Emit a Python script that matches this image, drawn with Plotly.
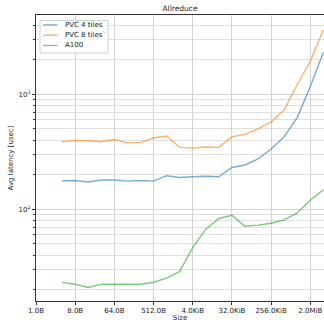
import math
import plotly.graph_objects as go

sizes = [2 ** k for k in range(2, 23)]  # 4 B .. 4 MiB
pvc4 = [177, 178, 173, 180, 180, 176, 178, 176, 196, 189, 192, 194, 192,
        231, 243, 274, 335, 428, 628, 1170, 2330]
pvc8 = [387, 398, 395, 387, 405, 379, 382, 417, 434, 346, 341, 348, 346,
        428, 449, 501, 576, 731, 1220, 1940, 3650]
a100 = [23.1, 22.3, 20.9, 22.3, 22.3, 22.3, 22.3, 23.2, 25.2, 28.8, 46.4,
        67.2, 83.2, 88.7, 71.3, 72.8, 75.7, 81, 93, 120, 148]

x_tickvals = [1, 8, 64, 512, 4096, 32768, 262144, 2097152]
x_ticktext = ["1.0B", "8.0B", "64.0B", "512.0B", "4.0KiB", "32.0KiB", "256.0KiB", "2.0MiB"]

y_tickvals = [100, 1000]
y_ticktext = ["10<sup>2</sup>", "10<sup>3</sup>"]
y_minorvals = [k * d for d in (10, 100, 1000) for k in range(2, 10)]

series = [
    ("PVC 4 tiles", pvc4, "rgba(31,119,180,0.6)"),
    ("PVC 8 tiles`", pvc8, "rgba(255,127,14,0.6)"),
    ("A100", a100, "rgba(44,160,44,0.6)"),
]

fig = go.Figure()
for name, vals, col in series:
    fig.add_trace(go.Scatter(x=sizes, y=vals, mode="lines", name=name,
                             line=dict(color=col, width=1.4), showlegend=False))

font = dict(family="DejaVu Sans", size=7, color="#222")

# manual compact legend (matplotlib style)
L, T, W, H = 36, 15, 288, 288
def px(x):
    return (x - L) / W
def py(y):
    return (T + H - y) / H

shapes = [dict(type="rect", xref="paper", yref="paper",
               x0=px(40), x1=px(108), y0=py(53.3), y1=py(20.5),
               fillcolor="rgba(255,255,255,0.8)", line=dict(color="#d0d0d0", width=1),
               layer="above")]
annotations = []
rows = [25, 35.3, 45.7]
for (name, vals, col), ry in zip(series, rows):
    shapes.append(dict(type="line", xref="paper", yref="paper",
                       x0=px(43), x1=px(57.5), y0=py(ry), y1=py(ry),
                       line=dict(color=col, width=1.4), layer="above"))
    annotations.append(dict(text=name, xref="paper", yref="paper",
                            x=px(63), y=py(ry), xanchor="left", yanchor="middle",
                            showarrow=False, font=font))

fig.update_layout(
    width=324, height=322,
    margin=dict(l=36, r=0, t=15, b=19),
    paper_bgcolor="white", plot_bgcolor="white",
    font=font,
    title=dict(text="Allreduce", x=0.5, xref="paper", xanchor="center",
               y=1, yref="container", yanchor="top", pad=dict(t=6),
               font=dict(family="DejaVu Sans", size=7.5, color="#222")),
    shapes=shapes,
    annotations=annotations,
    showlegend=False,
)
fig.update_xaxes(type="log", range=[0, 22.05 * math.log10(2)],
                 tickvals=x_tickvals, ticktext=x_ticktext,
                 showgrid=True, gridcolor="#d4d4d4", gridwidth=1,
                 showline=True, linecolor="#333", linewidth=1, mirror=True,
                 ticks="outside", ticklen=3, tickcolor="#333",
                 title=dict(text="Size", standoff=2, font=font),
                 zeroline=False)
fig.update_yaxes(type="log", range=[1.202, 3.691],
                 tickvals=y_tickvals, ticktext=y_ticktext,
                 showgrid=True, gridcolor="#d4d4d4", gridwidth=1,
                 showline=True, linecolor="#333", linewidth=1,
                 ticks="outside", ticklen=3, tickcolor="#333",
                 minor=dict(tickvals=y_minorvals, showgrid=True, gridcolor="#e0e0e0",
                            gridwidth=1, ticks="outside", ticklen=2, tickcolor="#333"),
                 title=dict(text="Avg latency [usec]", standoff=4, font=font),
                 zeroline=False)

fig.write_html("out.html")
